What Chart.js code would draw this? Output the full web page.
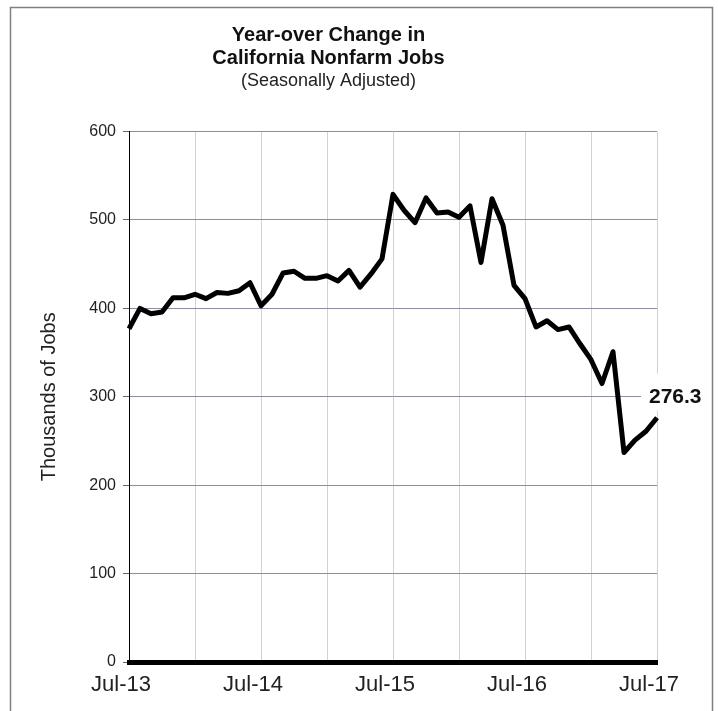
<!DOCTYPE html>
<html>
<head>
<meta charset="utf-8">
<title>Year-over Change in California Nonfarm Jobs</title>
<script src="https://cdn.jsdelivr.net/npm/chart.js@4/dist/chart.umd.min.js"></script>
<style>
  body { margin: 0; background: #fff; }
  canvas { display: block; }
</style>
</head>
<body>
<canvas id="jobsChart" width="718" height="711"></canvas>
<script>
// Months, Jul-13 .. Jul-17
const months = [
    'Jul-13', 'Aug-13', 'Sep-13', 'Oct-13', 'Nov-13', 'Dec-13',
    'Jan-14', 'Feb-14', 'Mar-14', 'Apr-14', 'May-14', 'Jun-14',
    'Jul-14', 'Aug-14', 'Sep-14', 'Oct-14', 'Nov-14', 'Dec-14',
    'Jan-15', 'Feb-15', 'Mar-15', 'Apr-15', 'May-15', 'Jun-15',
    'Jul-15', 'Aug-15', 'Sep-15', 'Oct-15', 'Nov-15', 'Dec-15',
    'Jan-16', 'Feb-16', 'Mar-16', 'Apr-16', 'May-16', 'Jun-16',
    'Jul-16', 'Aug-16', 'Sep-16', 'Oct-16', 'Nov-16', 'Dec-16',
    'Jan-17', 'Feb-17', 'Mar-17', 'Apr-17', 'May-17', 'Jun-17',
    'Jul-17'
];

// Year-over change, thousands of jobs
const jobChange = [
    377, 400, 394, 396, 412, 412,
    416, 411, 418, 417, 420, 429,
    403, 416, 440, 442, 434, 434,
    437, 431, 443, 424, 439, 456,
    529, 511, 497, 525, 508, 509,
    503, 516, 452, 524, 494, 426,
    411, 379, 386, 376, 379, 360,
    342, 315, 351, 237, 251, 261,
    276.3
];

const yTicks = [0, 100, 200, 300, 400, 500, 600];

const titleLines = ['Year-over Change in', 'California Nonfarm Jobs'];
const subtitleText = '(Seasonally Adjusted)';
const yTitle = 'Thousands of Jobs';

const fontFamily = '"Liberation Sans", Arial, sans-serif';

// White page with the grey frame round the whole chart
const framePlugin = {
    id: 'frame',
    beforeDraw(chart) {
        const ctx = chart.ctx;
        ctx.save();
        ctx.fillStyle = '#fff';
        ctx.fillRect(0, 0, chart.width, chart.height);
        ctx.strokeStyle = '#808080';
        ctx.lineWidth = 1.5;
        ctx.strokeRect(10.5, 7.5, 702, 730);
        ctx.restore();
    }
};

// Label with the latest value next to the end of the line
const lastValuePlugin = {
    id: 'lastValue',
    afterDatasetsDraw(chart) {
        const meta = chart.getDatasetMeta(0);
        const pt = meta.data[meta.data.length - 1];
        const value = jobChange[jobChange.length - 1];
        const ctx = chart.ctx;
        ctx.save();
        ctx.fillStyle = '#fff';
        ctx.fillRect(pt.x - 16, pt.y - 44, 68, 37);
        ctx.font = 'bold 21px ' + fontFamily;
        ctx.fillStyle = '#111';
        ctx.textAlign = 'left';
        ctx.textBaseline = 'alphabetic';
        ctx.fillText(value.toFixed(1), pt.x - 8, pt.y - 15);
        ctx.restore();
    }
};

new Chart(document.getElementById('jobsChart'), {
    type: 'line',
    data: {
        labels: months,
        datasets: [{
            data: jobChange,
            borderColor: '#000',
            borderWidth: 5,
            borderJoinStyle: 'round',
            borderCapStyle: 'butt',
            pointRadius: 0,
            tension: 0,
            fill: false
        }]
    },
    options: {
        responsive: false,
        animation: false,
        layout: { padding: { left: 0, right: 61, top: 0, bottom: 0 } },
        plugins: {
            legend: { display: false },
            tooltip: { enabled: false },
            title: {
                display: true,
                text: titleLines,
                color: '#111',
                font: { family: fontFamily, size: 20, weight: 'bold', lineHeight: 1.15 },
                padding: { top: 24, bottom: 0 }
            },
            subtitle: {
                display: true,
                text: subtitleText,
                color: '#222',
                font: { family: fontFamily, size: 18, lineHeight: 1.2 },
                padding: { top: 0, bottom: 40 }
            }
        },
        scales: {
            x: {
                type: 'category',
                grid: {
                    drawTicks: false,
                    color: ctx => (ctx.index % 6 === 0 ? '#d2d2d2' : 'rgba(0,0,0,0)'),
                    lineWidth: 1
                },
                border: { display: true, color: '#000', width: 5 },
                ticks: {
                    autoSkip: false,
                    maxRotation: 0,
                    padding: 10,
                    labelOffset: -8,
                    color: '#222',
                    font: { family: fontFamily, size: 22 },
                    callback: function (value, index) {
                        return index % 12 === 0 ? months[index] : '';
                    }
                },
                afterFit(scale) { scale.height = 49; }
            },
            y: {
                min: 0,
                max: 600,
                afterBuildTicks(scale) {
                    scale.ticks = yTicks.map(v => ({ value: v }));
                },
                grid: {
                    color: ctx => (ctx.tick && ctx.tick.value === 0 ? 'rgba(0,0,0,0)' : '#8c8d9e'),
                    tickColor: '#666',
                    tickLength: 6,
                    lineWidth: 1
                },
                border: { display: true, color: '#000', width: 1 },
                ticks: {
                    padding: 7,
                    color: '#222',
                    font: { family: fontFamily, size: 16 }
                },
                title: {
                    display: true,
                    text: yTitle,
                    color: '#222',
                    font: { family: fontFamily, size: 20 },
                    padding: { top: 37, bottom: 0 }
                },
                afterFit(scale) { scale.width = 129; }
            }
        }
    },
    plugins: [framePlugin, lastValuePlugin]
});
</script>
</body>
</html>
